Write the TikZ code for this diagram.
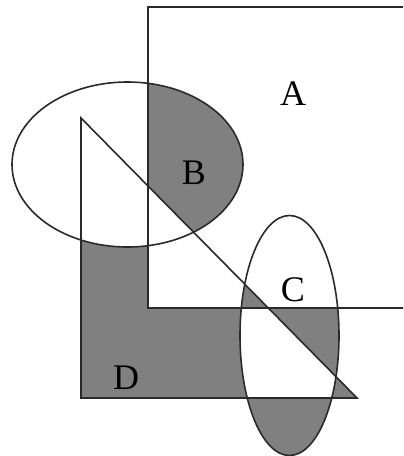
\documentclass[tikz,border=0pt]{standalone}
\usepackage{fontspec}
\setmainfont{Liberation Serif}
\usepackage{xcolor}
\definecolor{RegionGray}{HTML}{808080}
\definecolor{EdgeGray}{HTML}{2A2A2A}

\def\setA{(148,7) rectangle (470,308)}
\def\setB{(127.5,164.5) ellipse [x radius=115.5, y radius=82.5]}
\def\setC{(289.5,335.5) ellipse [x radius=49.5, y radius=120]}
\def\setT{(81,118) -- (81,398) -- (357,398) -- cycle}

\begin{document}
\begin{tikzpicture}[
    x=0.5pt, y=-0.5pt,
    outline/.style={draw=EdgeGray, line width=0.8pt},
    setlabel/.style={font=\fontsize{18}{21}\selectfont, inner sep=0pt}
  ]
    \useasboundingbox (0,0) rectangle (403,456);
    \clip (0,0) rectangle (403,456);

    % gray where exactly one of T, C
    \fill[RegionGray, even odd rule] \setT \setC;
    \fill[white] \setB;
    % inside A
    \begin{scope}
      \clip \setA;
      \fill[white] \setA;
      \fill[RegionGray] \setB;
      \fill[white] \setT;
      \clip \setC;
      \fill[RegionGray] \setT;
    \end{scope}

    \draw[outline] \setA;
    \draw[outline] \setB;
    \draw[outline] \setT;
    \draw[outline] \setC;

    \node[setlabel] (labelA) at (293,94) {A};
    \node[setlabel] (labelB) at (194,173) {B};
    \node[setlabel] (labelC) at (293,290) {C};
    \node[setlabel] (labelD) at (126,378) {D};
  \end{tikzpicture}
\end{document}
